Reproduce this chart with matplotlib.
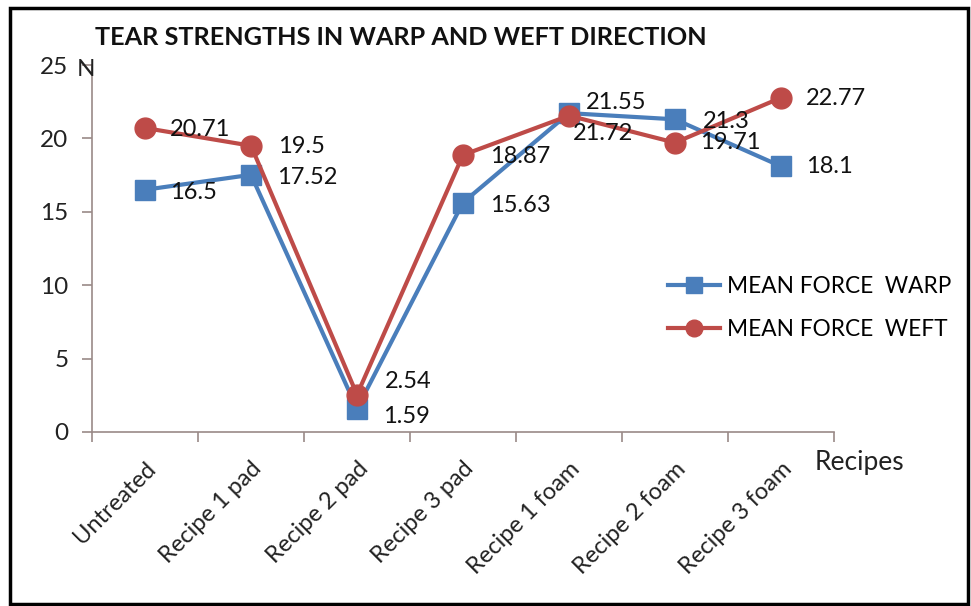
import matplotlib
matplotlib.use("Agg")
import matplotlib.pyplot as plt
from matplotlib.patches import Rectangle
from matplotlib.lines import Line2D

categories = ["Untreated", "Recipe 1 pad", "Recipe 2 pad", "Recipe 3 pad",
              "Recipe 1 foam", "Recipe 2 foam", "Recipe 3 foam"]
warp = [16.5, 17.52, 1.59, 15.63, 21.72, 21.3, 18.1]
weft = [20.71, 19.5, 2.54, 18.87, 21.55, 19.71, 22.77]
yticks = [0, 5, 10, 15, 20, 25]
title = "TEAR STRENGTHS IN WARP AND WEFT DIRECTION"
legend_labels = ["MEAN FORCE  WARP", "MEAN FORCE  WEFT"]

# label offsets in pixels (style/position)
warp_off = [(25, -3), (26, -3), (26, -8), (27, -3), (4, -20), (28, -2), (25, 0)]
weft_off = [(25, -2), (27, -1), (28, 13), (27, -2), (17, 13), (25, 0), (25, -1)]

plt.rcParams['font.family'] = ['Lato', 'DejaVu Sans']

W, H = 971, 606
fig = plt.figure(figsize=(W / 100, H / 100), dpi=100)
fig.patch.set_facecolor('white')

def fx(px):
    return px / W

def fy(py):
    return 1 - py / H

left, right, bottom, top = 92, 834, 432, 65
ax = fig.add_axes([fx(left), fy(bottom), fx(right) - fx(left), fy(top) - fy(bottom)])

blue = '#4A7EBB'
red = '#BE4B48'
x = list(range(len(categories)))
ax.plot(x, warp, color=blue, lw=3.0, marker='s', ms=14.5, mfc=blue, mec=blue, zorder=3)
ax.plot(x, weft, color=red, lw=3.0, marker='o', ms=15, mfc=red, mec=red, zorder=4)

fs_lab = 17
for i in x:
    ax.annotate(str(warp[i]), (i, warp[i]), xytext=warp_off[i], textcoords='offset pixels',
                ha='left', va='center', fontsize=fs_lab, color='#111111', zorder=5)
    ax.annotate(str(weft[i]), (i, weft[i]), xytext=weft_off[i], textcoords='offset pixels',
                ha='left', va='center', fontsize=fs_lab, color='#111111', zorder=5)

ax.set_xlim(-0.5, len(categories) - 0.5)
ax.set_ylim(0, 25)
ax.set_yticks(yticks)
ax.set_yticklabels([str(v) for v in yticks], fontsize=17.5, color='#222222')
ax.set_xticks([i - 0.5 for i in range(len(categories) + 1)])
ax.set_xticklabels([])

spine_c = '#9a8a88'
for s in ['top', 'right']:
    ax.spines[s].set_visible(False)
for s in ['left', 'bottom']:
    ax.spines[s].set_color(spine_c)
    ax.spines[s].set_linewidth(1.2)
ax.tick_params(axis='both', direction='out', length=7, width=1.2, color=spine_c)
ax.tick_params(axis='y', pad=10)
ax.set_facecolor('none')

for i, c in enumerate(categories):
    ax.annotate(c, (i, 0), xycoords=('data', 'axes fraction'), xytext=(0, -26),
                textcoords='offset pixels', rotation=45, rotation_mode='anchor',
                ha='right', va='top', fontsize=17, color='#222222')

fig.text(fx(77), fy(76), "N", fontsize=17.5, color='#222222', va='baseline', ha='left')
fig.text(fx(815), fy(470), "Recipes", fontsize=19, color='#222222', va='baseline', ha='left')
fig.text(fx(95), fy(45), title, fontsize=18.2, fontweight='bold', color='#111111',
         va='baseline', ha='left')

handles = [Line2D([], [], color=blue, lw=3.0, marker='s', ms=11.5, mfc=blue, mec=blue),
           Line2D([], [], color=red, lw=3.0, marker='o', ms=12, mfc=red, mec=red)]
fig.legend(handles, legend_labels, loc='center left',
           bbox_to_anchor=(fx(668), fy(308)), frameon=False, fontsize=16.3,
           handlelength=2.3, handletextpad=0.3, labelspacing=0.95, borderpad=0,
           borderaxespad=0)

fig.patches.append(Rectangle((fx(10), fy(604)), fx(968) - fx(10), fy(8) - fy(604),
                             transform=fig.transFigure, fill=False, edgecolor='black',
                             linewidth=2.5))

fig.savefig("out.png", dpi=100, facecolor='white')
